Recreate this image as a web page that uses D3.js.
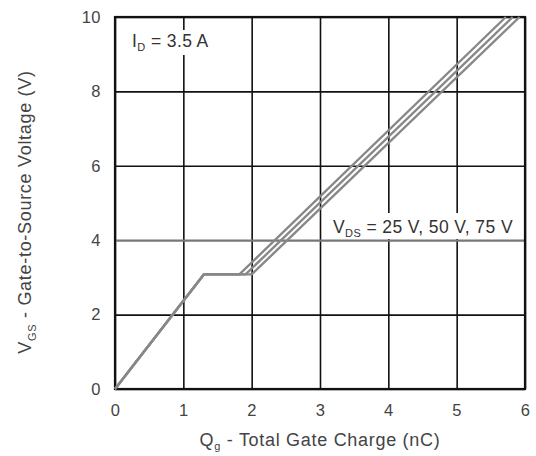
<!DOCTYPE html>
<html>
<head>
<meta charset="utf-8">
<script src="https://cdn.jsdelivr.net/npm/d3@7"></script>
<style>
  html, body { margin: 0; padding: 0; background: #fff; }
  svg { display: block; font-family: "Liberation Sans", Arial, sans-serif; }
</style>
</head>
<body>
<svg id="chart" width="536" height="456"></svg>
<script>
// Gate charge characteristic: VGS vs Qg for three drain-source voltages
const xTicks = [0, 1, 2, 3, 4, 5, 6];
const yTicks = [0, 2, 4, 6, 8, 10];

// Qg (nC) breakpoints and matching VGS (V) for each VDS curve
const qg25 = [0, 1.3, 1.82, 5.72];
const vgs25 = [0, 3.08, 3.08, 10];
const qg50 = [0, 1.3, 1.91, 5.82];
const vgs50 = [0, 3.08, 3.08, 10];
const qg75 = [0, 1.3, 2.0, 5.92];
const vgs75 = [0, 3.08, 3.08, 10];

const seriesNames = ["25 V", "50 V", "75 V"];
const seriesQ = [qg25, qg50, qg75];
const seriesV = [vgs25, vgs50, vgs75];

const margin = { left: 115, top: 17, right: 11, bottom: 67 };
const W = 536, H = 456;
const iw = W - margin.left - margin.right;
const ih = H - margin.top - margin.bottom;

const svg = d3.select("#chart");
const g = svg.append("g").attr("transform", `translate(${margin.left},${margin.top})`);

const x = d3.scaleLinear().domain([0, 6]).range([0, iw]);
const y = d3.scaleLinear().domain([0, 10]).range([ih, 0]);

// vertical grid + x tick labels
const xAxis = g.append("g")
  .attr("transform", `translate(0,${ih})`)
  .call(d3.axisBottom(x).tickValues(xTicks).tickSize(-ih).tickPadding(15).tickFormat(d3.format("d")));
xAxis.select(".domain").remove();
xAxis.selectAll(".tick line").attr("stroke", "#111").attr("stroke-width", 1.6);
xAxis.selectAll(".tick text").attr("fill", "#444")
  .style("font-size", "16.5px").style("letter-spacing", "0.5px");

// horizontal grid + y tick labels
const yAxis = g.append("g")
  .call(d3.axisLeft(y).tickValues(yTicks).tickSize(-iw).tickPadding(14).tickFormat(d3.format("d")));
yAxis.select(".domain").remove();
yAxis.selectAll(".tick line")
  .attr("stroke", d => d === 4 ? "#777" : "#111")
  .attr("stroke-width", d => d === 4 ? 2.2 : 1.6);
yAxis.selectAll(".tick text").attr("fill", "#444")
  .style("font-size", "16.5px").style("letter-spacing", "0.5px");

// plot frame
g.append("rect")
  .attr("x", 0).attr("y", 0).attr("width", iw).attr("height", ih)
  .attr("fill", "none").attr("stroke", "#111").attr("stroke-width", 2.2);

// curves
const line = d3.line().x(d => x(d[0])).y(d => y(d[1]));
const curves = seriesNames.map((name, i) => ({
  name,
  pts: seriesQ[i].map((q, j) => [q, seriesV[i][j]])
}));
g.append("g")
  .selectAll("path")
  .data(curves)
  .join("path")
  .attr("d", d => line(d.pts))
  .attr("fill", "none")
  .attr("stroke", "#888")
  .attr("stroke-width", 2.4)
  .attr("stroke-linejoin", "miter");

// ID annotation
const idG = g.append("g").attr("transform", `translate(${132 - margin.left},${47 - margin.top})`);
idG.append("rect").attr("x", -5).attr("y", -17).attr("width", 88).attr("height", 25).attr("fill", "#fff");
const idT = idG.append("text").attr("fill", "#333").style("font-size", "17.5px").style("letter-spacing", "0.4px");
idT.append("tspan").text("I");
idT.append("tspan").attr("dy", 4).style("font-size", "11px").text("D");
idT.append("tspan").attr("dy", -4).text(" = 3.5 A");

// VDS annotation
const vdsG = g.append("g").attr("transform", `translate(${333 - margin.left},${233 - margin.top})`);
vdsG.append("rect").attr("x", -7).attr("y", -20).attr("width", 196).attr("height", 26).attr("fill", "#fff");
const vT = vdsG.append("text").attr("fill", "#333").style("font-size", "17.5px").style("letter-spacing", "0.4px");
vT.append("tspan").text("V");
vT.append("tspan").attr("dy", 4).style("font-size", "11px").text("DS");
vT.append("tspan").attr("dy", -4).text(" = " + seriesNames.join(", "));

// axis titles
const xt = svg.append("text")
  .attr("x", 320).attr("y", 446)
  .attr("text-anchor", "middle").attr("fill", "#444")
  .style("font-size", "18px").style("letter-spacing", "0.7px");
xt.append("tspan").text("Q");
xt.append("tspan").attr("dy", 4).style("font-size", "11px").text("g");
xt.append("tspan").attr("dy", -4).text(" - Total Gate Charge (nC)");

const yt = svg.append("text")
  .attr("transform", `translate(31,212) rotate(-90)`)
  .attr("text-anchor", "middle").attr("fill", "#444")
  .style("font-size", "18px").style("letter-spacing", "0.7px");
yt.append("tspan").text("V");
yt.append("tspan").attr("dy", 5).style("font-size", "11px").text("GS");
yt.append("tspan").attr("dy", -5).text(" - Gate-to-Source Voltage (V)");
</script>
</body>
</html>
